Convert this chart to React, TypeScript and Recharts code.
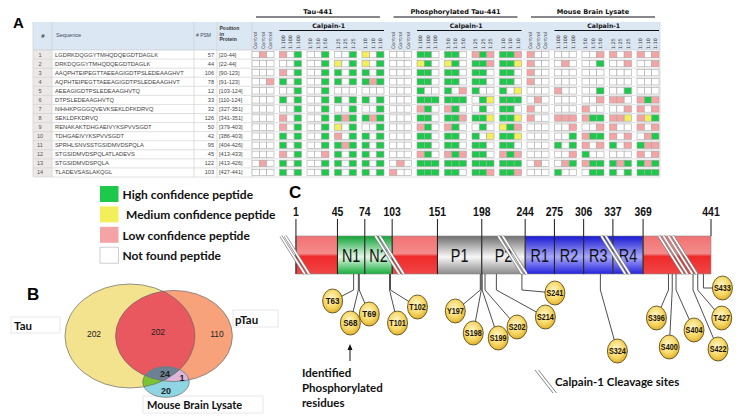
import React from 'react';
import { ScatterChart, Scatter, XAxis, YAxis, BarChart, Bar, Customized } from 'recharts';

const W = 741;
const H = 417;

/* ===================== PANEL A DATA ===================== */
const PEPTIDE_IDS = [1, 2, 3, 4, 5, 6, 7, 8, 9, 10, 11, 12, 13, 14];
const SEQUENCES = [
  'LGDRKDQGGYTMHQDQEGDTDAGLK',
  'DRKDQGGYTMHQDQEGDTDAGLK',
  'AAQPHTEIPEGTTAEEAGIGDTPSLEDEAAGHVT',
  'AQPHTEIPEGTTAEEAGIGDTPSLEDEAAGHVT',
  'AEEAGIGDTPSLEDEAAGHVTQ',
  'DTPSLEDEAAGHVTQ',
  'NIHHKPGGGQVEVKSEKLDFKDRVQ',
  'SEKLDFKDRVQ',
  'RENAKAKTDHGAEIVYKSPVVSGDT',
  'TDHGAEIVYKSPVVSGDT',
  'SPRHLSNVSSTGSIDMVDSPQLA',
  'STGSIDMVDSPQLATLADEVS',
  'STGSIDMVDSPQLA',
  'TLADEVSASLAKQGL',
];
const PSM_COUNTS = [57, 44, 106, 78, 12, 33, 32, 126, 50, 42, 95, 45, 122, 103];
const POSITIONS = ['[20-44]', '[22-44]', '[90-123]', '[91-123]', '[103-124]', '[110-124]', '[327-351]', '[341-351]', '[379-403]', '[386-403]', '[404-426]', '[413-433]', '[413-426]', '[427-441]'];
const TABLE_HEADERS = ['#', 'Sequence', '# PSM', 'Position in Protein'];
const SAMPLE_SETS = ['Tau-441', 'Phosphorylated Tau-441', 'Mouse Brain Lysate'];
const CONDITIONS = ['Control', '1:100', '1:50', '1:25', '1:10'];
const ENZYME = 'Calpain-1';
// 0 = not found, 1 = high, 2 = medium, 3 = low confidence (3 replicates per condition)
const TAU_441_CALLS = [
  '030 301 001 001 201',
  '000 001 001 201 201',
  '000 301 001 101 101',
  '003 101 001 101 131',
  '000 001 001 000 000',
  '000 101 001 101 101',
  '000 001 001 001 001',
  '000 301 001 131 131',
  '000 301 001 201 001',
  '000 101 001 301 101',
  '000 101 001 131 101',
  '000 301 003 101 101',
  '030 101 001 101 101',
  '000 101 001 101 101',
];
const PTAU_441_CALLS = [
  '000 110 110 313 113',
  '000 210 210 113 112',
  '000 110 110 110 110',
  '000 110 110 110 110',
  '000 100 103 100 102',
  '000 111 111 012 111',
  '000 310 310 010 110',
  '000 110 113 112 112',
  '000 310 310 010 213',
  '000 110 110 102 112',
  '000 110 110 110 110',
  '000 310 313 110 313',
  '030 111 111 111 111',
  '300 111 110 113 113',
];
const MOUSE_BRAIN_CALLS = [
  '300 000 003 303 303',
  '300 030 001 003 003',
  '300 000 000 000 000',
  '300 000 000 000 000',
  '000 300 001 001 000',
  '030 000 003 330 313',
  '300 000 300 003 303',
  '300 333 311 332 321',
  '000 003 003 300 303',
  '000 001 311 303 031',
  '000 101 303 103 133',
  '000 003 100 000 303',
  '030 031 311 131 131',
  '000 100 011 101 111',
];
const CONFIDENCE_LABELS = ['Not found peptide', 'High confidence peptide', 'Medium confidence peptide', 'Low confidence peptide'];
const LEGEND_ORDER = [1, 2, 3, 0];

/* ===================== PANEL B DATA ===================== */
const VENN_SET_NAMES = ['Tau', 'pTau', 'Mouse Brain Lysate'];
const VENN_REGION_COUNTS = [202, 202, 110, 24, 1, 20];
const VENN_REGION_MEMBERS = [[0], [0, 1], [1], [0, 1, 2], [1, 2], [2]];

/* ===================== PANEL C DATA ===================== */
const DOMAIN_BOUNDARIES = [1, 45, 74, 103, 151, 198, 244, 275, 306, 337, 369, 441];
const DOMAIN_NAMES = ['', 'N1', 'N2', '', 'P1', 'P2', 'R1', 'R2', 'R3', 'R4', ''];
const DOMAIN_KINDS = ['red', 'green', 'green', 'red', 'gray', 'gray', 'blue', 'blue', 'blue', 'blue', 'red'];
const PHOSPHO_SITES = ['T63', 'S68', 'T69', 'T101', 'T102', 'Y197', 'S198', 'S199', 'S202', 'S214', 'S241', 'S324', 'S396', 'S400', 'S404', 'S422', 'T427', 'S433'];
const CLEAVAGE_SITES = [1, 101, 231, 340, 401, 411];

/* ===================== STYLE / LAYOUT ===================== */
const FONT_SANS = "'Liberation Sans', Arial, Helvetica, sans-serif";
const FONT_VERDANA = "'DejaVu Sans', Verdana, sans-serif";
const FONT_CAL = "Lato, 'Open Sans', 'Liberation Sans', sans-serif";
const STATUS_FILL = ['#FFFFFF', '#1DC84B', '#F3EF5A', '#F4A4A4'];

const A = { left: 252, right: 659, top: 50, bottom: 177, tableLeft: 33, tableRight: 660, headTop: 22 };
const GROUP_STEP = 3.75;
const N_GROUPS = SAMPLE_SETS.length * CONDITIONS.length;
const X_UNITS = (N_GROUPS - 1) * GROUP_STEP + 3;
const UNIT_PX = (A.right - A.left) / X_UNITS;
const ROW_PX = (A.bottom - A.top) / PEPTIDE_IDS.length;
const gx = (u: number) => A.left + u * UNIT_PX;

const C = { left: 295, right: 711, barTop: 236, barBottom: 274, axisH: 26 };

// label placement for phospho-site bubbles: [dx from residue px, bubble centre y]
const SITE_LAYOUT: Record<string, [number, number]> = {
  T63: [-21, 301], S68: [-8, 323], T69: [10, 314], T101: [8, 323], T102: [27, 307],
  Y197: [-25, 311], S198: [-8, 333], S199: [16, 338], S202: [32, 327], S214: [49, 317],
  S241: [33, 293], S324: [17, 351], S396: [-12, 318], S400: [-3, 347], S404: [18, 330],
  S422: [25, 349], T427: [24, 318], S433: [19, 288],
};
const VENN_CENTERS = [[130, 336], [174, 336], [166, 382]];
const VENN_ASPECT = [0.8, 0.78, 0.66];
const VENN_PX2_PER_ITEM = 24.8;
const VENN_FILL = ['#F3E38F', '#F8A27C', '#8ED6E4'];
const VENN_REGION_POS = [[94, 337], [158, 335], [217, 337], [165, 377], [182, 381], [166, 394]];

/* ===================== DERIVED ===================== */
type Col = { set: number; cond: number; rep: number; group: number; x: number; label: string };
const COLUMNS: Col[] = [];
SAMPLE_SETS.forEach((_, s) =>
  CONDITIONS.forEach((cond, k) =>
    [0, 1, 2].forEach((rep) => {
      const g = s * CONDITIONS.length + k;
      COLUMNS.push({ set: s, cond: k, rep, group: g, x: g * GROUP_STEP + rep + 0.5, label: cond });
    })
  )
);
const CALLS_BY_SET = [TAU_441_CALLS, PTAU_441_CALLS, MOUSE_BRAIN_CALLS];
const CELLS = PEPTIDE_IDS.flatMap((id, r) =>
  COLUMNS.map((col) => {
    const digits = CALLS_BY_SET[col.set][r].replace(/\s/g, '');
    return { x: col.x, y: id, status: Number(digits[col.cond * 3 + col.rep]) };
  })
);
const COL_TICKS = COLUMNS.map((c) => c.x);
const labelForTick = (v: number) => {
  let best = COLUMNS[0];
  COLUMNS.forEach((c) => { if (Math.abs(c.x - v) < Math.abs(best.x - v)) best = c; });
  return best.label;
};

const DOMAIN_ROW: Record<string, number | string> = { name: 'Tau-441', pad: DOMAIN_BOUNDARIES[0] };
DOMAIN_NAMES.forEach((_, i) => { DOMAIN_ROW['s' + i] = DOMAIN_BOUNDARIES[i + 1] - DOMAIN_BOUNDARIES[i]; });

const SITE_DATA = PHOSPHO_SITES.map((label) => ({ label, res: parseInt(label.slice(1), 10), y: 0 }));
const CLEAVAGE_DATA = CLEAVAGE_SITES.map((res) => ({ res, y: 0 }));

const VENN_SIZES = VENN_SET_NAMES.map((_, s) =>
  VENN_REGION_COUNTS.reduce((acc, c, i) => acc + (VENN_REGION_MEMBERS[i].includes(s) ? c : 0), 0)
);
const VENN_DATA = VENN_SET_NAMES.map((name, s) => {
  const rx = Math.sqrt((VENN_PX2_PER_ITEM * VENN_SIZES[s]) / (Math.PI * VENN_ASPECT[s]));
  return { name, idx: s, x: VENN_CENTERS[s][0], y: VENN_CENTERS[s][1], rx, ry: rx * VENN_ASPECT[s] };
});
const VENN_LABEL_DATA = VENN_REGION_COUNTS.map((count, i) => ({ count, idx: i, x: VENN_REGION_POS[i][0], y: VENN_REGION_POS[i][1] }));

/* ===================== PANEL A COMPONENTS ===================== */
const CellShape = (p: any) => {
  const { cx, cy, payload } = p;
  const w = UNIT_PX;
  const h = 6.4;
  return <rect x={cx - w / 2} y={cy - h / 2} width={w} height={h} fill={STATUS_FILL[payload.status]} stroke="#A8A8A8" strokeWidth={0.6} />;
};

const ColumnTick = (p: any) => {
  const { x, payload } = p;
  const bx = x + 1.7;
  const by = 49;
  return (
    <text x={bx} y={by} transform={`rotate(-90 ${bx} ${by})`} fontSize={4.8} fontFamily={FONT_VERDANA} fill="#333">
      {labelForTick(payload.value)}
    </text>
  );
};

const RowTick = (p: any) => {
  const { y, payload } = p;
  const i = payload.value - 1;
  const base = y + 2;
  return (
    <g>
      <line x1={A.tableLeft} x2={A.tableRight} y1={y + ROW_PX / 2} y2={y + ROW_PX / 2} stroke="#D2D2D2" strokeWidth={0.7} />
      <text x={40} y={base} textAnchor="middle" fontSize={5.6} fontFamily={FONT_SANS} fill="#555">{PEPTIDE_IDS[i]}</text>
      <text x={55} y={base} fontSize={5.8} fontFamily={FONT_SANS} fill="#444">{SEQUENCES[i]}</text>
      <text x={214} y={base} textAnchor="end" fontSize={5.6} fontFamily={FONT_SANS} fill="#444">{PSM_COUNTS[i]}</text>
      <text x={219} y={base} fontSize={5.6} fontFamily={FONT_SANS} fill="#444">{POSITIONS[i]}</text>
    </g>
  );
};

const HeaderLayer = () => {
  const parts: React.ReactNode[] = [];
  SAMPLE_SETS.forEach((name, s) => {
    const g0 = s * CONDITIONS.length;
    const gLast = g0 + CONDITIONS.length - 1;
    const x0 = gx(g0 * GROUP_STEP);
    const x1 = gx(gLast * GROUP_STEP + 3);
    const c0 = gx((g0 + 1) * GROUP_STEP);
    parts.push(
      <g key={'sh' + s}>
        <text x={(x0 + x1) / 2} y={14} textAnchor="middle" fontSize={6.6} fontWeight="bold" fontFamily={FONT_VERDANA} fill="#111">{name}</text>
        <line x1={x0 + 4} x2={x1 - 4} y1={17} y2={17} stroke="#111" strokeWidth={1} />
        <text x={(c0 + x1) / 2 - 3} y={27.5} textAnchor="middle" fontSize={6.2} fontWeight="bold" fontFamily={FONT_VERDANA} fill="#111">{ENZYME}</text>
        <line x1={c0} x2={x1} y1={30.5} y2={30.5} stroke="#111" strokeWidth={1} />
      </g>
    );
  });
  const vlines = [A.tableLeft, 52, 194, 217, A.left, A.tableRight];
  return (
    <g>
      <text x={13} y={28} fontSize={15} fontWeight="bold" fontFamily={FONT_SANS} fill="#000">A</text>
      {vlines.map((x, i) => (
        <line key={'v' + i} x1={x} x2={x} y1={A.headTop} y2={A.bottom} stroke="#D0D0D0" strokeWidth={0.7} />
      ))}
      <line x1={A.tableLeft} x2={A.tableRight} y1={A.top} y2={A.top} stroke="#C8C8C8" strokeWidth={0.7} />
      <text x={43} y={38} textAnchor="middle" fontSize={6} fontWeight="bold" fontFamily={FONT_SANS} fill="#333">{TABLE_HEADERS[0]}</text>
      <text x={56} y={36.5} fontSize={5.6} fontFamily={FONT_SANS} fill="#3A4A60">{TABLE_HEADERS[1]}</text>
      <text x={196} y={36.5} fontSize={5} fontFamily={FONT_SANS} fill="#3A4A60">{TABLE_HEADERS[2]}</text>
      {TABLE_HEADERS[3].split(' ').map((w, i) => (
        <text key={w} x={219.5} y={30 + i * 5.6} fontSize={5} fontWeight="bold" fontFamily={FONT_SANS} fill="#333">{w}</text>
      ))}
      {parts}
      <defs>
        <clipPath id="legend-clip">
          <rect x={0} y={0} width={277} height={H} />
        </clipPath>
      </defs>
      {LEGEND_ORDER.map((st, i) => {
        const top = 186 + i * 20.4;
        return (
          <g key={'lg' + st}>
            <rect x={100} y={top} width={18.5} height={16} fill={STATUS_FILL[st]} stroke={st === 0 ? '#C4C4C4' : 'none'} strokeWidth={0.8} />
            <text x={st === 2 ? 126 : 122.5} y={top + 13} fontSize={12} fontWeight="bold" fontFamily={FONT_CAL} fill="#111" clipPath="url(#legend-clip)">
              {CONFIDENCE_LABELS[st]}
            </text>
          </g>
        );
      })}
    </g>
  );
};

/* ===================== PANEL B COMPONENTS ===================== */
const VennShape = (p: any) => {
  const { cx, cy, payload } = p;
  const { rx, ry, idx } = payload;
  if (idx === 0) {
    return (
      <g>
        <defs>
          <clipPath id="venn-clip-0"><ellipse cx={cx} cy={cy} rx={rx} ry={ry} /></clipPath>
        </defs>
        <ellipse cx={cx} cy={cy} rx={rx} ry={ry} fill={VENN_FILL[0]} />
      </g>
    );
  }
  if (idx === 1) {
    return (
      <g>
        <defs>
          <clipPath id="venn-clip-1"><ellipse cx={cx} cy={cy} rx={rx} ry={ry} /></clipPath>
        </defs>
        <ellipse cx={cx} cy={cy} rx={rx} ry={ry} fill={VENN_FILL[1]} />
        <ellipse cx={cx} cy={cy} rx={rx} ry={ry} fill="#E9585E" clipPath="url(#venn-clip-0)" />
      </g>
    );
  }
  return (
    <g>
      <ellipse cx={cx} cy={cy} rx={rx} ry={ry} fill={VENN_FILL[2]} />
      <ellipse cx={cx} cy={cy} rx={rx} ry={ry} fill="#7CC334" clipPath="url(#venn-clip-0)" />
      <ellipse cx={cx} cy={cy} rx={rx} ry={ry} fill="#DDB6D9" clipPath="url(#venn-clip-1)" />
      <g clipPath="url(#venn-clip-0)">
        <ellipse cx={cx} cy={cy} rx={rx} ry={ry} fill="#6C8194" clipPath="url(#venn-clip-1)" />
      </g>
    </g>
  );
};
const VennOutline = (p: any) => {
  const { cx, cy, payload } = p;
  return <ellipse cx={cx} cy={cy} rx={payload.rx} ry={payload.ry} fill="none" stroke="#6A6A6A" strokeWidth={0.7} />;
};
const VennCountLabel = (p: any) => {
  const { cx, cy, payload } = p;
  const big = payload.idx >= 3;
  return (
    <text x={cx} y={cy} textAnchor="middle" fontSize={big ? 9 : 8.5} fontWeight={big ? 'bold' : 'normal'} fontFamily={FONT_SANS} fill="#222">
      {payload.count}
    </text>
  );
};
const VennLabels = () => (
  <g>
    <text x={27} y={300} fontSize={17} fontWeight="bold" fontFamily={FONT_SANS} fill="#000">B</text>
    <rect x={11} y={317} width={49} height={16} fill="none" stroke="#E2E2E2" strokeWidth={0.8} />
    <text x={14} y={330} fontSize={11.5} fontWeight="bold" fontFamily={FONT_CAL} fill="#111">{VENN_SET_NAMES[0]}</text>
    <rect x={233} y={310} width={45} height={17} fill="none" stroke="#E2E2E2" strokeWidth={0.8} />
    <text x={235} y={324} fontSize={11.5} fontWeight="bold" fontFamily={FONT_CAL} fill="#111">{VENN_SET_NAMES[1]}</text>
    <rect x={143} y={396} width={120} height={17} fill="none" stroke="#E2E2E2" strokeWidth={0.8} />
    <text x={147} y={409} fontSize={11} fontWeight="bold" fontFamily={FONT_CAL} fill="#111">{VENN_SET_NAMES[2]}</text>
  </g>
);

/* ===================== PANEL C COMPONENTS ===================== */
const ResidueTick = (p: any) => {
  const { x, payload } = p;
  return (
    <text transform={`translate(${x} 216) scale(0.8 1)`} textAnchor="middle" fontSize={13} fontWeight="bold" fontFamily={FONT_SANS} fill="#111">
      {payload.value}
    </text>
  );
};

const makeSegmentShape = (i: number) => (p: any) => {
  const { x, y, width, height } = p;
  const last = i === DOMAIN_NAMES.length - 1;
  return (
    <g>
      <rect x={x} y={y} width={width} height={height} fill={`url(#dom-${DOMAIN_KINDS[i]})`} stroke="#8A8A8A" strokeWidth={0.6} />
      <line x1={x} x2={x} y1={219} y2={y + height} stroke="#1A1A1A" strokeWidth={1} />
      {last && <line x1={x + width} x2={x + width} y1={219} y2={y} stroke="#1A1A1A" strokeWidth={1} />}
      {DOMAIN_NAMES[i] && (
        <text transform={`translate(${x + width / 2} ${y + height / 2 + 6.5}) scale(0.8 1)`} textAnchor="middle" fontSize={18} fontFamily={FONT_SANS} fill="#111">
          {DOMAIN_NAMES[i]}
        </text>
      )}
    </g>
  );
};

const CleavageShape = (p: any) => {
  const { cx } = p;
  const t = C.barTop;
  const b = C.barBottom;
  return (
    <g>
      {[-2.2, 2.2].map((o) => (
        <g key={o}>
          <line x1={cx - 12 + o} y1={t} x2={cx + 12 + o} y2={b} stroke="#7A7A7A" strokeWidth={3} />
          <line x1={cx - 12 + o} y1={t} x2={cx + 12 + o} y2={b} stroke="#FFFFFF" strokeWidth={1.7} />
        </g>
      ))}
    </g>
  );
};

const SiteShape = (p: any) => {
  const { cx, payload } = p;
  const [dx, by] = SITE_LAYOUT[payload.label];
  const bx = cx + dx;
  const elbow = Math.min(C.barBottom + 16, by);
  const n = payload.label.length;
  return (
    <g>
      <polyline points={`${cx},${C.barBottom} ${cx},${elbow} ${bx},${by}`} fill="none" stroke="#3A3A3A" strokeWidth={0.9} />
      <ellipse cx={bx} cy={by} rx={10} ry={12} fill="url(#site-fill)" stroke="#4A3C12" strokeWidth={0.8} />
      <text transform={`translate(${bx} ${by + 3.3}) scale(${n > 3 ? 0.76 : 0.85} 1)`} textAnchor="middle" fontSize={9.5} fontWeight="bold" fontFamily={FONT_SANS} fill="#1A1200">
        {payload.label}
      </text>
    </g>
  );
};

const PanelCNotes = () => (
  <g>
    <text x={289} y={198} fontSize={17} fontWeight="bold" fontFamily={FONT_SANS} fill="#000">C</text>
    {['Identified', 'Phosphorylated', 'residues'].map((w, i) => (
      <text key={w} x={302} y={377 + i * 14.8} fontSize={11.5} fontWeight="bold" fontFamily={FONT_CAL} fill="#111">{w}</text>
    ))}
    <line x1={350} x2={350} y1={361} y2={348} stroke="#111" strokeWidth={1} />
    <polygon points="350,344 347.5,350 352.5,350" fill="#111" />
    <line x1={535} y1={370} x2={553} y2={393} stroke="#777" strokeWidth={0.9} />
    <line x1={538.5} y1={370} x2={556.5} y2={393} stroke="#777" strokeWidth={0.9} />
    <text x={555} y={386} fontSize={11.5} fontWeight="bold" fontFamily={FONT_CAL} fill="#111">Calpain-1 Cleavage sites</text>
  </g>
);

const Gradients = () => (
  <svg width={0} height={0} style={{ position: 'absolute', left: 0, top: 0 }}>
    <defs>
      <linearGradient id="dom-red" x1="0" y1="0" x2="0" y2="1">
        <stop offset="0" stopColor="#F27272" />
        <stop offset="0.46" stopColor="#F48A8A" />
        <stop offset="0.54" stopColor="#EF2A2A" />
        <stop offset="1" stopColor="#F14545" />
      </linearGradient>
      <linearGradient id="dom-green" x1="0" y1="0" x2="0" y2="1">
        <stop offset="0" stopColor="#0FA336" />
        <stop offset="0.55" stopColor="#E4F7E6" />
        <stop offset="1" stopColor="#16AE3C" />
      </linearGradient>
      <linearGradient id="dom-gray" x1="0" y1="0" x2="0" y2="1">
        <stop offset="0" stopColor="#6E6E6E" />
        <stop offset="0.55" stopColor="#F7F7F7" />
        <stop offset="1" stopColor="#8A8A8A" />
      </linearGradient>
      <linearGradient id="dom-blue" x1="0" y1="0" x2="0" y2="1">
        <stop offset="0" stopColor="#1717D2" />
        <stop offset="0.55" stopColor="#A9A9FA" />
        <stop offset="1" stopColor="#2323DE" />
      </linearGradient>
      <radialGradient id="site-fill" cx="0.45" cy="0.4" r="0.62">
        <stop offset="0" stopColor="#FFF8D4" />
        <stop offset="0.6" stopColor="#F7D865" />
        <stop offset="1" stopColor="#DFAE2A" />
      </radialGradient>
    </defs>
  </svg>
);

const layer: React.CSSProperties = { position: 'absolute', left: 0, top: 0 };

export default function App() {
  return (
    <div style={{ position: 'absolute', left: 0, top: 0, width: W, height: H, background: '#fff', overflow: 'hidden' }}>
      <Gradients />
      <div style={{ position: 'absolute', left: A.tableLeft, top: A.headTop, width: A.tableRight - A.tableLeft, height: A.top - A.headTop, background: '#DCE7F4' }} />
      <div style={{ position: 'absolute', left: A.tableLeft, top: A.top, width: 52 - A.tableLeft, height: A.bottom - A.top, background: '#ECE8E8' }} />

      <div style={layer}>
        <ScatterChart width={W} height={H} margin={{ top: A.top - 20, left: A.left - 10, right: W - A.right, bottom: H - A.bottom }}>
          <XAxis type="number" dataKey="x" domain={[0, X_UNITS]} orientation="top" height={20} ticks={COL_TICKS} interval={0} tick={<ColumnTick />} axisLine={false} tickLine={false} />
          <YAxis type="number" dataKey="y" domain={[0.5, PEPTIDE_IDS.length + 0.5]} reversed width={10} ticks={PEPTIDE_IDS} interval={0} tick={<RowTick />} axisLine={false} tickLine={false} />
          <Scatter data={CELLS} shape={CellShape} isAnimationActive={false} />
          <Customized component={HeaderLayer} />
        </ScatterChart>
      </div>

      <div style={layer}>
        <ScatterChart width={W} height={H} margin={{ top: 0, left: 0, right: 0, bottom: 0 }}>
          <XAxis type="number" dataKey="x" domain={[0, W]} hide />
          <YAxis type="number" dataKey="y" domain={[0, H]} reversed hide />
          <Scatter data={VENN_DATA} shape={VennShape} isAnimationActive={false} />
          <Scatter data={VENN_DATA} shape={VennOutline} isAnimationActive={false} />
          <Scatter data={VENN_LABEL_DATA} shape={VennCountLabel} isAnimationActive={false} />
          <Customized component={VennLabels} />
        </ScatterChart>
      </div>

      <div style={layer}>
        <BarChart width={W} height={H} layout="vertical" data={[DOMAIN_ROW]} barCategoryGap={0}
          margin={{ top: C.barTop - C.axisH, left: C.left, right: W - C.right, bottom: H - C.barBottom }}>
          <XAxis type="number" domain={[DOMAIN_BOUNDARIES[0], DOMAIN_BOUNDARIES[DOMAIN_BOUNDARIES.length - 1]]} orientation="top" height={C.axisH}
            ticks={DOMAIN_BOUNDARIES} interval={0} tick={<ResidueTick />} axisLine={false} tickLine={false} />
          <YAxis type="category" dataKey="name" hide />
          <Bar dataKey="pad" stackId="tau" fill="none" isAnimationActive={false} shape={() => <g />} />
          {DOMAIN_NAMES.map((_, i) => (
            <Bar key={i} dataKey={'s' + i} stackId="tau" isAnimationActive={false} shape={makeSegmentShape(i)} />
          ))}
        </BarChart>
      </div>

      <div style={layer}>
        <ScatterChart width={W} height={H} margin={{ top: 0, left: C.left, right: W - C.right, bottom: 0 }}>
          <XAxis type="number" dataKey="res" domain={[DOMAIN_BOUNDARIES[0], DOMAIN_BOUNDARIES[DOMAIN_BOUNDARIES.length - 1]]} hide />
          <YAxis type="number" dataKey="y" domain={[0, 1]} hide />
          <Scatter data={CLEAVAGE_DATA} shape={CleavageShape} isAnimationActive={false} />
          <Scatter data={SITE_DATA} shape={SiteShape} isAnimationActive={false} />
          <Customized component={PanelCNotes} />
        </ScatterChart>
      </div>
    </div>
  );
}
